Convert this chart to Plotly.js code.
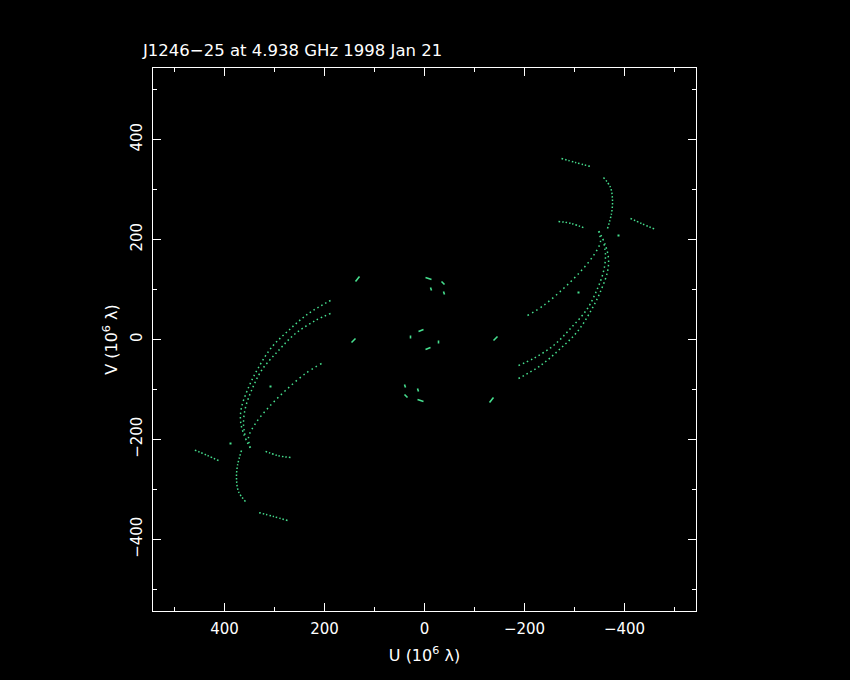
<!DOCTYPE html>
<html>
<head>
<meta charset="utf-8">
<script src="https://cdn.plot.ly/plotly-3.0.1.min.js"></script>
<style>html,body{margin:0;padding:0;background:#000;}#chart{width:850px;height:680px;}</style>
</head>
<body>
<div id="chart"></div>
<script>
// UV tracks (units of 10^6 lambda); each track is also drawn with its conjugate (-u,-v)
const trackL1_u = [188, 232, 272, 306, 332, 352, 366, 368, 362, 346];
const trackL1_v = [78, 52, 18, -16, -56, -96, -136, -162, -188, -222];
const trackL2_u = [188, 218, 258, 292, 326, 346, 358, 362, 358];
const trackL2_v = [52, 38, 12, -22, -62, -102, -136, -168, -196];
const trackL3_u = [206, 238, 278, 312, 338, 352, 348];
const trackL3_v = [-48, -68, -102, -136, -168, -196, -216];
const arcA_u = [-274, -302, -332];
const arcA_v = [362, 354, 346];
const arcB_u = [-358, -372, -376, -374, -366];
const arcB_v = [324, 304, 278, 252, 222];
const arcC_u = [-268, -294, -322];
const arcC_v = [236, 232, 222];
const arcD_u = [-412, -434, -462];
const arcD_v = [242, 232, 220];
const segS1_u = [138, 130];  const segS1_v = [116, 126];
const segS2_u = [146, 138];  const segS2_v = [-6, 2];
const segT1_u = [-2, -14];   const segT1_v = [124, 120];
const segT2_u = [-34, -40];  const segT2_v = [116, 110];
const segT3_u = [-12, -14];  const segT3_v = [104, 98];
const segT4_u = [-38, -40];  const segT4_v = [96, 90];
const segC1_u = [12, 2];     const segC1_v = [16, 20];
const segC2_u = [28, 28];    const segC2_v = [8, 2];
const strayU = [-388, -308];
const strayV = [208, 94];

const xTickVals = [-400, -200, 0, 200, 400];
const yTickVals = [-400, -200, 0, 200, 400];

const GREEN = '#46e08f';
const traces = [];
function neg(a){ return a.map(function(x){ return -x; }); }
function addTrack(u, v, dash, width){
  [[u, v], [neg(u), neg(v)]].forEach(function(p){
    traces.push({x: p[0], y: p[1], type: 'scatter', mode: 'lines',
      line: {color: GREEN, width: width, dash: dash, shape: 'spline', smoothing: 1},
      hoverinfo: 'skip', showlegend: false});
  });
}
addTrack(trackL1_u, trackL1_v, '1.5px,3px', 1.5);
addTrack(trackL2_u, trackL2_v, '1.5px,3px', 1.5);
addTrack(trackL3_u, trackL3_v, '1.5px,3.5px', 1.5);
addTrack(arcA_u, arcA_v, '1.5px,2px', 1.5);
addTrack(arcB_u, arcB_v, '1.5px,2px', 1.5);
addTrack(arcC_u, arcC_v, '1.5px,2px', 1.5);
addTrack(arcD_u, arcD_v, '1.5px,2px', 1.5);
[[segS1_u, segS1_v], [segS2_u, segS2_v], [segT1_u, segT1_v], [segT2_u, segT2_v],
 [segT3_u, segT3_v], [segT4_u, segT4_v], [segC1_u, segC1_v], [segC2_u, segC2_v]]
 .forEach(function(s){ addTrack(s[0], s[1], 'solid', 1.6); });
traces.push({x: strayU.concat(neg(strayU)), y: strayV.concat(neg(strayV)), type: 'scatter', mode: 'markers',
  marker: {color: GREEN, size: 2, symbol: 'square'}, hoverinfo: 'skip', showlegend: false});

const axisCommon = {
  showgrid: false, zeroline: false, showline: true, mirror: 'ticks',
  linecolor: '#ffffff', linewidth: 1, ticks: 'inside', ticklen: 8, tickwidth: 1,
  tickcolor: '#ffffff', minor: {dtick: 100, ticks: 'inside', ticklen: 4, tickcolor: '#ffffff', tickwidth: 1},
  tickfont: {family: 'DejaVu Sans', size: 15, color: '#ffffff'}
};

const layout = {
  width: 850, height: 680,
  paper_bgcolor: '#000000', plot_bgcolor: '#000000',
  margin: {l: 153, r: 154, t: 68, b: 69},
  font: {family: 'DejaVu Sans', size: 15, color: '#ffffff'},
  title: {text: 'J1246\u221225 at 4.938 GHz 1998 Jan 21', x: 143/850, xanchor: 'left', xref: 'container',
          y: 1 - 50/680, yanchor: 'middle', yref: 'container',
          font: {family: 'DejaVu Sans', size: 16.5, color: '#ffffff'}},
  xaxis: Object.assign({}, axisCommon, {range: [543, -543], tickvals: xTickVals, ticklabelstandoff: 4,
          title: {text: 'U (10<sup>6</sup> \u03bb)', standoff: 12, font: {family: 'DejaVu Sans', size: 16, color: '#ffffff'}}}),
  yaxis: Object.assign({}, axisCommon, {range: [-543, 543], tickvals: yTickVals, tickangle: -90, ticklabelstandoff: 4,
          title: {text: 'V (10<sup>6</sup> \u03bb)', standoff: 6, font: {family: 'DejaVu Sans', size: 16, color: '#ffffff'}}}),
  showlegend: false
};

Plotly.newPlot('chart', traces, layout, {displayModeBar: false, staticPlot: true});
</script>
</body>
</html>
